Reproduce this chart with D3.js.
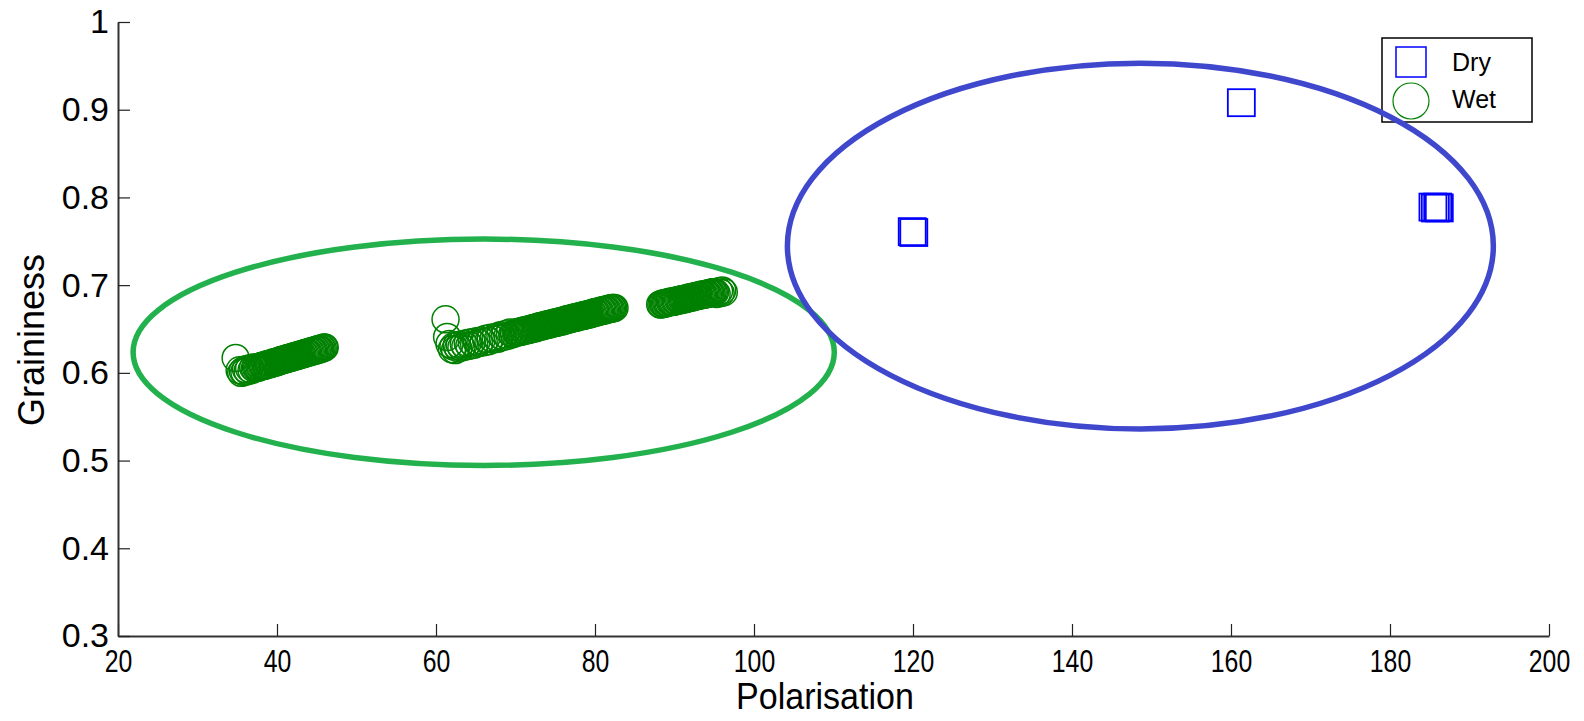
<!DOCTYPE html>
<html>
<head>
<meta charset="utf-8">
<script src="https://cdn.jsdelivr.net/npm/d3@7"></script>
<style>
  body { margin: 0; background: #fff; }
  svg { display: block; font-family: "Liberation Sans", Arial, sans-serif; }
</style>
</head>
<body>
<svg id="chart" width="1584" height="721"></svg>
<script>
// Data
var xTicks = [20, 40, 60, 80, 100, 120, 140, 160, 180, 200];
var yTicks = [0.3, 0.4, 0.5, 0.6, 0.7, 0.8, 0.9, 1];
var seriesNames = ["Dry", "Wet"];

// Dry samples (Polarisation, Graininess)
var dryPoints = [
  [119.9, 0.761], [120.1, 0.760],
  [161.3, 0.908],
  [185.4, 0.789], [185.7, 0.788], [186.0, 0.789], [186.2, 0.788]
];

// Wet samples, three runs
var wetA = [
  [34.8,0.617],[35.3,0.603],[35.5,0.600],[35.7,0.602],[35.9,0.601],[36.1,0.604],[36.3,0.602],[36.5,0.605],
  [36.8,0.603],[37.0,0.606],[37.2,0.605],[37.35,0.606],
  [37.5,0.606],[37.65,0.606],[37.8,0.607],[37.95,0.607],[38.1,0.608],[38.25,0.608],[38.4,0.608],[38.55,0.609],
  [38.7,0.609],[38.85,0.610],[39.0,0.610],[39.15,0.610],[39.3,0.611],[39.45,0.611],[39.6,0.612],[39.75,0.612],
  [39.9,0.612],[40.05,0.613],[40.2,0.613],[40.35,0.614],[40.5,0.614],[40.65,0.615],[40.8,0.615],[40.95,0.615],
  [41.1,0.616],[41.25,0.616],[41.4,0.617],[41.55,0.617],[41.7,0.617],[41.85,0.618],[42.0,0.618],[42.15,0.619],
  [42.3,0.619],[42.45,0.619],[42.6,0.620],[42.75,0.620],[42.9,0.621],[43.05,0.621],[43.2,0.621],[43.35,0.622],
  [43.5,0.622],[43.65,0.623],[43.8,0.623],[43.95,0.623],[44.1,0.624],[44.25,0.624],[44.4,0.625],[44.55,0.625],
  [44.7,0.625],[44.85,0.626],[45.0,0.626],[45.15,0.627],[45.3,0.627],[45.45,0.627],[45.6,0.628],[45.75,0.628],
  [45.9,0.629],[46.0,0.629]
];
var wetB = [
  [61.2,0.661],[61.4,0.641],[61.7,0.633],[62.0,0.627],[62.2,0.630],[62.4,0.626],[62.6,0.631],[62.8,0.628],
  [63.0,0.632],[63.2,0.629],[63.5,0.633],[63.7,0.630],[64.0,0.634],[64.2,0.631],[64.5,0.635],[64.8,0.632],
  [65.1,0.636],[65.4,0.634],[65.7,0.637],[66.0,0.635],[66.3,0.639],[66.6,0.636],[66.9,0.640],[67.2,0.638],
  [67.5,0.641],[67.8,0.639],[68.1,0.643],[68.4,0.641],[68.7,0.644],[69.0,0.642],[69.3,0.646],[69.6,0.644],
  [69.8,0.645],
  [70.0,0.646],[70.15,0.646],[70.3,0.646],[70.45,0.647],[70.6,0.647],[70.75,0.647],[70.9,0.648],[71.05,0.648],
  [71.2,0.648],[71.35,0.649],[71.5,0.649],[71.65,0.649],[71.8,0.650],[71.95,0.650],[72.1,0.650],[72.25,0.651],
  [72.4,0.651],[72.55,0.651],[72.7,0.652],[72.85,0.652],[73.0,0.653],[73.15,0.653],[73.3,0.653],[73.45,0.654],
  [73.6,0.654],[73.75,0.654],[73.9,0.655],[74.05,0.655],[74.2,0.655],[74.35,0.656],[74.5,0.656],[74.65,0.656],
  [74.8,0.657],[74.95,0.657],[75.1,0.657],[75.25,0.658],[75.4,0.658],[75.55,0.658],[75.7,0.659],[75.85,0.659],
  [76.0,0.659],[76.15,0.660],[76.3,0.660],[76.45,0.661],[76.6,0.661],[76.75,0.661],[76.9,0.662],[77.05,0.662],
  [77.2,0.662],[77.35,0.663],[77.5,0.663],[77.65,0.663],[77.8,0.664],[77.95,0.664],[78.1,0.664],[78.25,0.665],
  [78.4,0.665],[78.55,0.665],[78.7,0.666],[78.85,0.666],[79.0,0.666],[79.15,0.667],[79.3,0.667],[79.45,0.667],
  [79.6,0.668],[79.75,0.668],[79.9,0.669],[80.05,0.669],[80.2,0.669],[80.35,0.670],[80.5,0.670],[80.65,0.670],
  [80.8,0.671],[80.95,0.671],[81.1,0.671],[81.25,0.672],[81.4,0.672],[81.55,0.672],[81.7,0.673],[81.85,0.673],
  [82.0,0.673],[82.15,0.674],[82.3,0.674],[82.45,0.674]
];
var wetC = [
  [88.2,0.678],[88.35,0.678],[88.5,0.679],[88.65,0.679],[88.8,0.679],[88.95,0.680],[89.1,0.680],[89.25,0.680],
  [89.4,0.681],[89.55,0.681],[89.7,0.681],[89.85,0.681],[90.0,0.682],[90.15,0.682],[90.3,0.682],[90.45,0.683],
  [90.6,0.683],[90.75,0.683],[90.9,0.684],[91.05,0.684],[91.2,0.684],[91.35,0.684],[91.5,0.685],[91.65,0.685],
  [91.8,0.686],[91.95,0.686],[92.1,0.686],[92.25,0.686],[92.4,0.687],[92.55,0.687],[92.7,0.687],[92.85,0.688],
  [93.0,0.688],[93.15,0.688],[93.3,0.689],[93.45,0.689],[93.6,0.689],[93.75,0.689],[93.9,0.690],[94.05,0.690],
  [94.2,0.690],[94.35,0.691],[94.5,0.691],[94.65,0.691],[94.8,0.692],[94.95,0.692],
  [95.1,0.692],[95.3,0.690],[95.6,0.693],[95.8,0.691],[96.0,0.694],[96.2,0.692]
];

// Hand-drawn group ellipses (centre and radii in data units)
var ellipseCx = [66.0, 148.6];
var ellipseCy = [0.6235, 0.7446];
var ellipseRx = [44.1, 44.4];
var ellipseRy = [0.129, 0.2085];

// Layout
var svg = d3.select("#chart");
var plotLeft = 118, plotRight = 1549, plotTop = 22, plotBottom = 636;

var x = d3.scaleLinear().domain([20, 200]).range([plotLeft, plotRight]);
var y = d3.scaleLinear().domain([0.3, 1]).range([plotBottom, plotTop]);

// X axis
var xAxis = svg.append("g")
  .attr("transform", "translate(0," + plotBottom + ")")
  .call(d3.axisBottom(x).tickValues(xTicks).tickSizeInner(-12).tickSizeOuter(0).tickPadding(14).tickFormat(d3.format("d")));
xAxis.select(".domain").attr("stroke", "#333").attr("stroke-width", 2);
xAxis.selectAll(".tick line").attr("stroke", "#222").attr("stroke-width", 1.2);
xAxis.selectAll(".tick text")
  .attr("font-size", 31).attr("fill", "#000")
  .attr("transform", "scale(0.8,1)");

// Y axis
var yAxis = svg.append("g")
  .attr("transform", "translate(" + plotLeft + ",0)")
  .call(d3.axisLeft(y).tickValues(yTicks).tickSizeInner(-12).tickSizeOuter(0).tickPadding(9).tickFormat(function(d) { return d === 1 ? "1" : d3.format(".1f")(d); }));
yAxis.select(".domain").attr("stroke", "#333").attr("stroke-width", 2);
yAxis.selectAll(".tick line").attr("stroke", "#222").attr("stroke-width", 1.2);
yAxis.selectAll(".tick text").attr("font-size", 34).attr("fill", "#000");

// Axis titles
svg.append("text")
  .attr("transform", "translate(825,709) scale(0.92,1)")
  .attr("text-anchor", "middle")
  .attr("font-size", 37)
  .text("Polarisation");

svg.append("text")
  .attr("transform", "translate(44,340) rotate(-90)")
  .attr("text-anchor", "middle")
  .attr("font-size", 36)
  .text("Graininess");

// Wet circles
var wetPoints = wetA.concat(wetB, wetC);
svg.append("g").selectAll("circle")
  .data(wetPoints)
  .enter().append("circle")
  .attr("cx", function(d) { return x(d[0]); })
  .attr("cy", function(d) { return y(d[1]); })
  .attr("r", 13.5)
  .attr("fill", "none")
  .attr("stroke", "#008000")
  .attr("stroke-width", 1.5);

// Dry squares
var sq = 27;
svg.append("g").selectAll("rect")
  .data(dryPoints)
  .enter().append("rect")
  .attr("x", function(d) { return x(d[0]) - sq / 2; })
  .attr("y", function(d) { return y(d[1]) - sq / 2; })
  .attr("width", sq)
  .attr("height", sq)
  .attr("fill", "none")
  .attr("stroke", "#0000ff")
  .attr("stroke-width", 1.8);

// Legend
var legend = svg.append("g").attr("transform", "translate(1382,38)");
legend.append("rect")
  .attr("width", 150).attr("height", 84)
  .attr("fill", "#fff").attr("stroke", "#000").attr("stroke-width", 1.5);
legend.append("rect")
  .attr("x", 14).attr("y", 9).attr("width", 30).attr("height", 30)
  .attr("fill", "none").attr("stroke", "#0000ff").attr("stroke-width", 1.5);
legend.append("circle")
  .attr("cx", 29).attr("cy", 63).attr("r", 18)
  .attr("fill", "none").attr("stroke", "#008000").attr("stroke-width", 1.2);
legend.selectAll("text.lbl")
  .data(seriesNames)
  .enter().append("text")
  .attr("class", "lbl")
  .attr("x", 70)
  .attr("y", function(d, i) { return 33 + i * 37; })
  .attr("font-size", 25)
  .text(function(d) { return d; });

// Group ellipses drawn over everything
var ellipseColors = ["#22b14c", "#3f48cc"];
svg.append("g").selectAll("ellipse")
  .data(ellipseCx)
  .enter().append("ellipse")
  .attr("cx", function(d) { return x(d); })
  .attr("cy", function(d, i) { return y(ellipseCy[i]); })
  .attr("rx", function(d, i) { return x(d + ellipseRx[i]) - x(d); })
  .attr("ry", function(d, i) { return y(ellipseCy[i] - ellipseRy[i]) - y(ellipseCy[i]); })
  .attr("fill", "none")
  .attr("stroke", function(d, i) { return ellipseColors[i]; })
  .attr("stroke-width", 5.5);
</script>
</body>
</html>
